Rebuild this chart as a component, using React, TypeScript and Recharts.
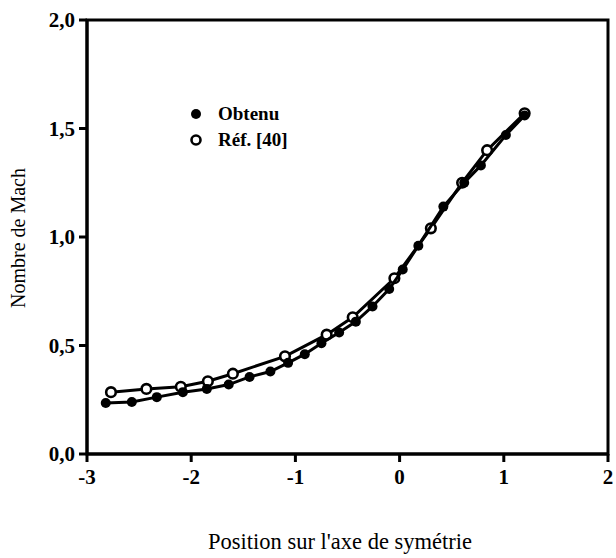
import { ReferenceArea, Scatter, ScatterChart, XAxis, YAxis } from 'recharts';

// Obtenu (filled markers)
const obtenuX = [-2.82, -2.57, -2.33, -2.08, -1.85, -1.64, -1.44, -1.24, -1.07, -0.91, -0.75, -0.58, -0.42, -0.26, -0.1, 0.03, 0.18, 0.42, 0.62, 0.78, 1.02, 1.2];
const obtenuY = [0.235, 0.24, 0.262, 0.285, 0.3, 0.32, 0.355, 0.38, 0.42, 0.46, 0.51, 0.56, 0.61, 0.68, 0.76, 0.85, 0.96, 1.14, 1.25, 1.33, 1.47, 1.56];

// Réf. [40] (open markers)
const refX = [-2.77, -2.43, -2.1, -1.84, -1.6, -1.1, -0.7, -0.45, -0.05, 0.3, 0.6, 0.84, 1.2];
const refY = [0.285, 0.3, 0.31, 0.335, 0.37, 0.45, 0.55, 0.63, 0.81, 1.04, 1.25, 1.4, 1.57];

const xTicks = [-3, -2, -1, 0, 1, 2];
const yTicks = [0, 0.5, 1, 1.5, 2];

const obtenu = obtenuX.map((x, i) => ({ x, y: obtenuY[i] }));
const ref = refX.map((x, i) => ({ x, y: refY[i] }));

const font = '"Liberation Serif", "Times New Roman", serif';

const FilledDot = (props: any) => <circle cx={props.cx} cy={props.cy} r={5} fill="#000" />;
const OpenDot = (props: any) => <circle cx={props.cx} cy={props.cy} r={4.8} fill="#fff" stroke="#000" strokeWidth={2.6} />;

function LegendBox() {
  const row = { display: 'flex', alignItems: 'center', height: 26 };
  return (
    <div style={{ position: 'absolute', left: 188, top: 101, fontFamily: font, fontWeight: 'bold', fontSize: 19, color: '#000' }}>
      <div style={row}>
        <svg width={30} height={14}><circle cx={8} cy={7} r={5} fill="#000" /></svg>
        <span>Obtenu</span>
      </div>
      <div style={row}>
        <svg width={30} height={14}><circle cx={8} cy={7} r={4.5} fill="#fff" stroke="#000" strokeWidth={2.6} /></svg>
        <span>Réf. [40]</span>
      </div>
    </div>
  );
}

const YTitle = () => (
  <text x={20} y={238} transform="rotate(-90 20 238)" textAnchor="middle" dominantBaseline="middle" fontFamily={font} fontSize={20} fill="#000">
    Nombre de Mach
  </text>
);

const XTitle = () => (
  <text x={340} y={544} textAnchor="middle" dominantBaseline="middle" fontFamily={font} fontSize={22.5} fill="#000">
    Position sur l'axe de symétrie
  </text>
);

export default function App() {
  const tick = { fontFamily: font, fontSize: 21, fontWeight: 'bold', fill: '#000' };
  return (
    <div style={{ position: 'absolute', left: 0, top: 0, width: 616, height: 558, background: '#fff' }}>
      <ScatterChart width={616} height={558} margin={{ top: 20, right: 8, bottom: 0, left: 0 }}>
        <XAxis
          type="number"
          dataKey="x"
          domain={[-3, 2]}
          ticks={xTicks}
          allowDataOverflow
          height={104}
          tick={tick}
          tickSize={8}
          tickMargin={7}
          axisLine={{ stroke: '#000', strokeWidth: 3 }}
          tickLine={{ stroke: '#000', strokeWidth: 3 }}
          label={<XTitle />}
        />
        <YAxis
          type="number"
          dataKey="y"
          domain={[0, 2]}
          ticks={yTicks}
          allowDataOverflow
          width={87}
          tick={tick}
          tickSize={8}
          tickMargin={4}
          tickFormatter={(v) => Number(v).toFixed(1).replace('.', ',')}
          axisLine={{ stroke: '#000', strokeWidth: 3 }}
          tickLine={{ stroke: '#000', strokeWidth: 3 }}
          label={<YTitle />}
        />
        <ReferenceArea x1={-3} x2={2} y1={0} y2={2} fill="none" stroke="#000" strokeWidth={3} ifOverflow="visible" />
        <Scatter name="Réf. [40]" data={ref} line={{ stroke: '#000', strokeWidth: 3 }} lineType="joint" shape={<OpenDot />} isAnimationActive={false} />
        <Scatter name="Obtenu" data={obtenu} line={{ stroke: '#000', strokeWidth: 3 }} lineType="joint" shape={<FilledDot />} isAnimationActive={false} />
      </ScatterChart>
      <LegendBox />
    </div>
  );
}
